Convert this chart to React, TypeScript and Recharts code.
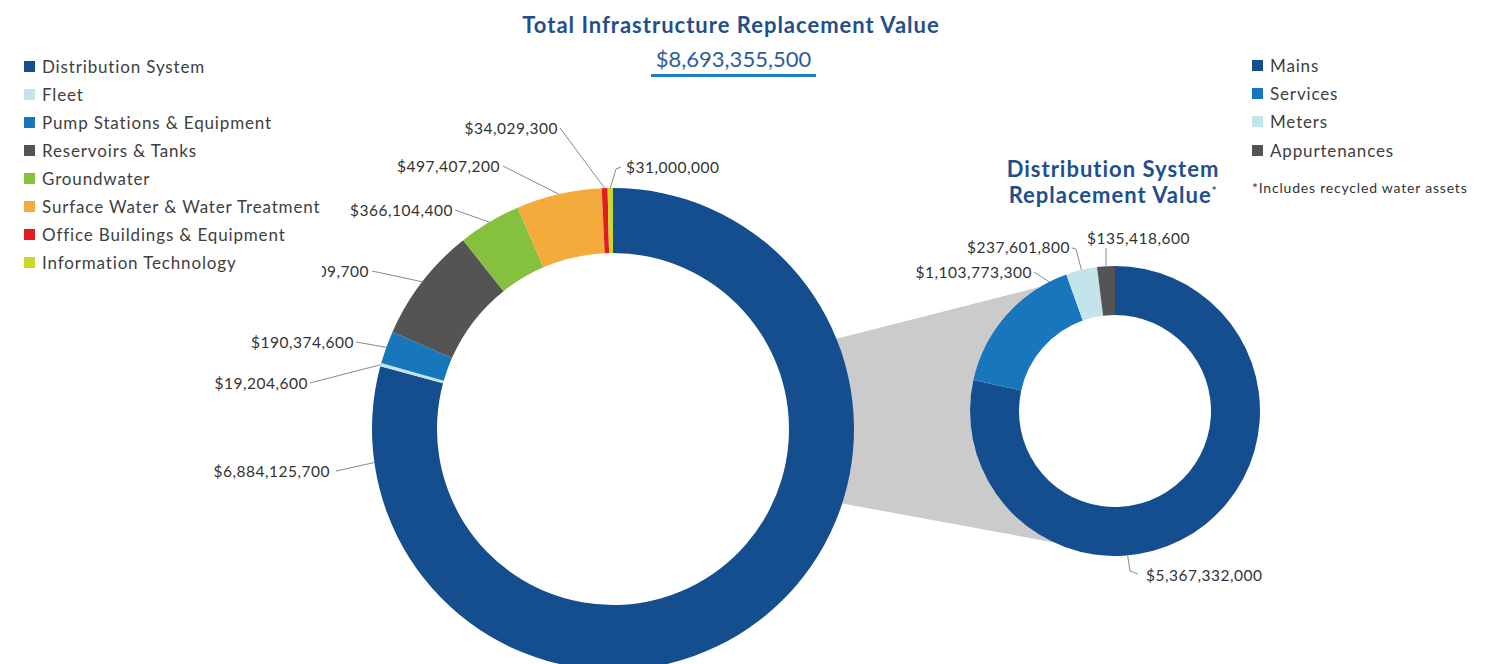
import React from 'react';
import { PieChart, Pie, Cell } from 'recharts';

// Total infrastructure (outer donut)
const assetNames = [
  'Distribution System',
  'Fleet',
  'Pump Stations & Equipment',
  'Reservoirs & Tanks',
  'Groundwater',
  'Surface Water & Water Treatment',
  'Office Buildings & Equipment',
  'Information Technology',
];
const assetValues = [6884125700, 19204600, 190374600, 671109700, 366104400, 497407200, 34029300, 31000000];
const assetColors = ['#154e8f', '#c3e4ea', '#1776bc', '#545454', '#86c03f', '#f5aa3c', '#e31b23', '#cbd82b'];

// Distribution system breakdown
const distNames = ['Mains', 'Services', 'Meters', 'Appurtenances'];
const distValues = [5367332000, 1103773300, 237601800, 135418600];
const distColors = ['#154e8f', '#1776bc', '#c3e4ea', '#545454'];

const W = 1495;
const H = 664;
const FONT = 'Lato, "Open Sans", sans-serif';
const TITLE_BLUE = '#1f4f8d';

const BIG = { cx: 613, cy: 429, inner: 176, outer: 241 };
const SMALL = { cx: 1115, cy: 411, inner: 96, outer: 145 };

type LabelSpot = { angle?: number; pts: number[][]; text: number[]; anchor: 'start' | 'end' };

// leader line layout, offsets from the pie centre
const bigLabels: LabelSpot[] = [
  { angle: 188, pts: [[-277, 42]], text: [-283, 42], anchor: 'end' },
  { pts: [[-303, -46]], text: [-305, -46], anchor: 'end' },
  { pts: [[-257, -87]], text: [-259, -87], anchor: 'end' },
  { pts: [[-241, -158]], text: [-244, -158], anchor: 'end' },
  { pts: [[-158, -219]], text: [-160, -219], anchor: 'end' },
  { pts: [[-110, -263]], text: [-113, -263], anchor: 'end' },
  { pts: [[-53, -301]], text: [-55, -301], anchor: 'end' },
  { pts: [[3, -260], [8, -262]], text: [13, -262], anchor: 'start' },
];
const smallLabels: LabelSpot[] = [
  { angle: -85, pts: [[15, 160], [23, 163]], text: [31, 164], anchor: 'start' },
  { angle: 117, pts: [[-81, -139]], text: [-83, -139], anchor: 'end' },
  { pts: [[-39, -162], [-43, -163]], text: [-45, -164], anchor: 'end' },
  { pts: [[-9, -163]], text: [-28, -173], anchor: 'start' },
];

const RAD = Math.PI / 180;
const money = (v: number) => '$' + v.toLocaleString('en-US');

const makeLabel = (spots: LabelSpot[]) => (props: any) => {
  const { cx, cy, midAngle, outerRadius, index, value } = props;
  const spot = spots[index];
  if (!spot) return null;
  const a = (spot.angle ?? midAngle) * RAD;
  const sx = cx + outerRadius * Math.cos(a);
  const sy = cy - outerRadius * Math.sin(a);
  const path = [[sx, sy], ...spot.pts.map(p => [cx + p[0], cy + p[1]])];
  return (
    <g key={`lbl-${index}`}>
      <polyline
        points={path.map(p => p.join(',')).join(' ')}
        fill="none"
        stroke="#8a8a8a"
        strokeWidth={1}
      />
      <text
        x={cx + spot.text[0]}
        y={cy + spot.text[1]}
        textAnchor={spot.anchor}
        dominantBaseline="central"
        fontSize={15.5}
        letterSpacing={0.5}
        fill="#333"
        fontFamily={FONT}
      >
        {money(value)}
      </text>
    </g>
  );
};

// grey wedge linking the two donuts
function Connector() {
  const onBig = (deg: number) => [BIG.cx + BIG.outer * Math.cos(deg * RAD), BIG.cy - BIG.outer * Math.sin(deg * RAD)];
  const onSmall = (deg: number) => [SMALL.cx + SMALL.outer * Math.cos(deg * RAD), SMALL.cy - SMALL.outer * Math.sin(deg * RAD)];
  const pts: number[][] = [onBig(22)];
  for (let d = 121; d <= 245; d += 4) pts.push(onSmall(d));
  pts.push(onSmall(245));
  pts.push(onBig(-18));
  return (
    <svg width={W} height={H} style={{ position: 'absolute', left: 0, top: 0 }}>
      <polygon points={pts.map(p => p.join(',')).join(' ')} fill="#cbcbcb" />
    </svg>
  );
}

function LegendBlock({ names, colors, left, top, width, height, pad, rowH }: any) {
  return (
    <div style={{ position: 'absolute', left, top, width, height, paddingLeft: pad, background: '#fff', fontFamily: FONT, boxSizing: 'border-box' }}>
      {names.map((n: string, i: number) => (
        <div key={n} style={{ height: rowH, display: 'flex', alignItems: 'center' }}>
          <span style={{ width: 11, height: 11, background: colors[i], marginRight: 7, flexShrink: 0 }} />
          <span style={{ fontSize: 17, letterSpacing: 0.85, color: '#404040', whiteSpace: 'nowrap' }}>{n}</span>
        </div>
      ))}
    </div>
  );
}

export default function App() {
  const bigData = assetNames.map((name, i) => ({ name, value: assetValues[i] }));
  const smallData = distNames.map((name, i) => ({ name, value: distValues[i] }));

  return (
    <div style={{ position: 'absolute', left: 0, top: 0, width: W, height: H, overflow: 'hidden', background: '#fff', fontFamily: FONT }}>
      <Connector />

      <div style={{ position: 'absolute', left: 0, top: 0 }}>
        <PieChart width={W} height={H} margin={{ top: 0, right: 0, bottom: 0, left: 0 }}>
          <Pie
            data={bigData}
            dataKey="value"
            cx={BIG.cx}
            cy={BIG.cy}
            innerRadius={BIG.inner}
            outerRadius={BIG.outer}
            startAngle={90}
            endAngle={-270}
            stroke="none"
            labelLine={false}
            label={makeLabel(bigLabels)}
            isAnimationActive={false}
          >
            {bigData.map((d, i) => (
              <Cell key={d.name} fill={assetColors[i]} />
            ))}
          </Pie>
          <Pie
            data={smallData}
            dataKey="value"
            cx={SMALL.cx}
            cy={SMALL.cy}
            innerRadius={SMALL.inner}
            outerRadius={SMALL.outer}
            startAngle={90}
            endAngle={-270}
            stroke="none"
            labelLine={false}
            label={makeLabel(smallLabels)}
            isAnimationActive={false}
          >
            {smallData.map((d, i) => (
              <Cell key={d.name} fill={distColors[i]} />
            ))}
          </Pie>
        </PieChart>
      </div>

      {/* titles */}
      <div style={{ position: 'absolute', left: 431, width: 600, top: 11, textAlign: 'center', fontSize: 22, letterSpacing: 1, fontWeight: 700, color: TITLE_BLUE }}>
        Total Infrastructure Replacement Value
      </div>
      <div style={{ position: 'absolute', left: 651, width: 165, top: 46, textAlign: 'center', fontSize: 22, color: '#2e5c9c', borderBottom: '3px solid #1a7dc4', paddingBottom: 2, lineHeight: '26px' }}>
        $8,693,355,500
      </div>
      <div style={{ position: 'absolute', left: 963, width: 300, top: 156, textAlign: 'center', fontSize: 22, letterSpacing: 1, fontWeight: 700, color: TITLE_BLUE, lineHeight: '26px' }}>
        Distribution System
        <br />
        Replacement Value<sup style={{ fontSize: 11, lineHeight: 0 }}>*</sup>
      </div>

      <LegendBlock names={assetNames} colors={assetColors} left={0} top={53} width={322} height={237} pad={24} rowH={27.9} />
      <LegendBlock names={distNames} colors={distColors} left={1252} top={51} width={220} pad={0} rowH={28.3} />
      <div style={{ position: 'absolute', left: 1252, top: 179, fontSize: 14, letterSpacing: 0.8, color: '#333' }}>
        *Includes recycled water assets
      </div>
    </div>
  );
}
